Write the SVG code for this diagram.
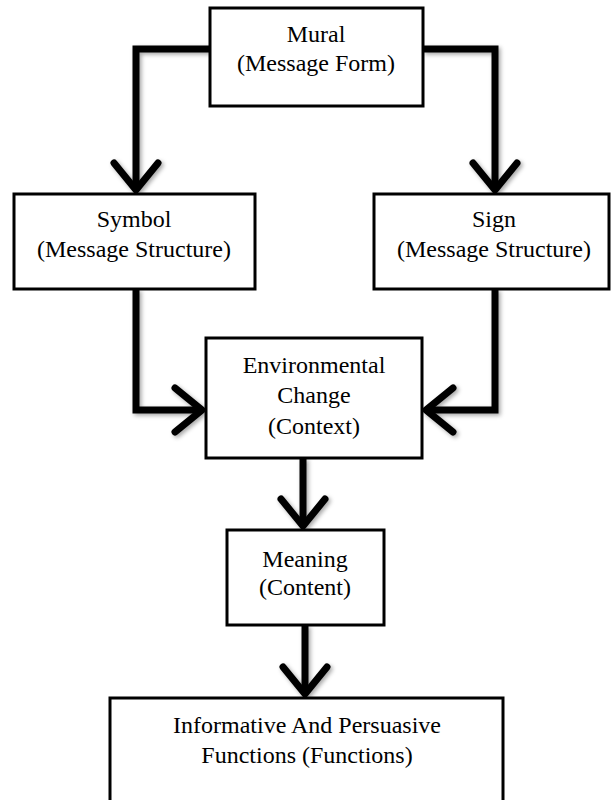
<svg xmlns="http://www.w3.org/2000/svg" width="611" height="800" viewBox="0 0 611 800">
<style>
.box{fill:#fff;stroke:#000;stroke-width:3}
.t{font-family:"Liberation Serif","Times New Roman",serif;font-size:24px;fill:#000;text-anchor:middle}
.c{fill:none;stroke:#000;stroke-width:7;stroke-linejoin:miter}
</style>
<defs>
<filter id="sh" x="-20%" y="-20%" width="140%" height="140%">
<feDropShadow dx="2" dy="2" stdDeviation="2" flood-color="#000" flood-opacity="0.35"/>
</filter>
<marker id="ah" markerUnits="userSpaceOnUse" markerWidth="70" markerHeight="70" viewBox="-35 -35 70 70" refX="0" refY="0" orient="auto" overflow="visible">
<path d="M-27,-22 L0,0 L-27,22" fill="none" stroke="#000" stroke-width="7" stroke-linecap="round" stroke-linejoin="round"/>
</marker>
</defs>
<rect width="611" height="800" fill="#fff"/>
<g id="connectors" filter="url(#sh)">
<path class="c" d="M210,49 H136 V190" marker-end="url(#ah)"/>
<path class="c" d="M423,49 H495 V190" marker-end="url(#ah)"/>
<path class="c" d="M136,289 V410 H202" marker-end="url(#ah)"/>
<path class="c" d="M495,289 V410 H426" marker-end="url(#ah)"/>
<path class="c" d="M303,458 V526" marker-end="url(#ah)"/>
<path class="c" d="M305,625 V694" marker-end="url(#ah)"/>
</g>
<g id="mural">
<rect class="box" x="210" y="8" width="213" height="98"/>
<text class="t" x="316" y="42">Mural</text>
<text class="t" x="316" y="71">(Message Form)</text>
</g>
<g id="symbol">
<rect class="box" x="14" y="194" width="241" height="95"/>
<text class="t" x="134" y="227">Symbol</text>
<text class="t" x="134" y="257">(Message Structure)</text>
</g>
<g id="sign">
<rect class="box" x="374" y="194" width="235" height="95"/>
<text class="t" x="494" y="227">Sign</text>
<text class="t" x="494" y="257">(Message Structure)</text>
</g>
<g id="environmental">
<rect class="box" x="206" y="338" width="216" height="120"/>
<text class="t" x="314" y="373">Environmental</text>
<text class="t" x="314" y="403">Change</text>
<text class="t" x="314" y="434">(Context)</text>
</g>
<g id="meaning">
<rect class="box" x="227" y="530" width="157" height="95"/>
<text class="t" x="305" y="567">Meaning</text>
<text class="t" x="305" y="595">(Content)</text>
</g>
<g id="functions">
<rect class="box" x="110" y="698" width="393" height="110"/>
<text class="t" x="307" y="733">Informative And Persuasive</text>
<text class="t" x="307" y="763">Functions (Functions)</text>
</g>
</svg>
